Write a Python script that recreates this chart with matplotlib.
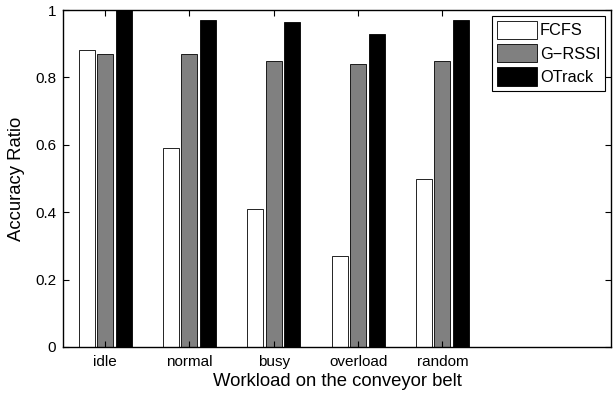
import matplotlib
matplotlib.use('Agg')
import matplotlib.pyplot as plt
import numpy as np

plt.rcParams['font.family'] = ['Liberation Sans', 'DejaVu Sans']

categories = ['idle', 'normal', 'busy', 'overload', 'random']
series = ['FCFS', 'G\u2212RSSI', 'OTrack']
fcfs = [0.88, 0.59, 0.41, 0.27, 0.50]
grssi = [0.87, 0.87, 0.85, 0.84, 0.85]
otrack = [1.00, 0.97, 0.965, 0.93, 0.97]

colors = ['white', '#808080', 'black']
x = np.arange(1, len(categories) + 1)
width = 0.19
step = 0.22

fig = plt.figure(figsize=(6.14, 3.94), dpi=100)
ax = fig.add_axes([63/614, 1 - 347/394, (611-63)/614, (347-10)/394])

for i, (vals, c, name) in enumerate(zip([fcfs, grssi, otrack], colors, series)):
    ax.bar(x + (i - 1) * step, vals, width, color=c, edgecolor='black',
           linewidth=0.6, label=name)

ax.set_xlim(0.5, 7.0)
ax.set_ylim(0, 1)
ax.set_xticks(x)
ax.set_xticklabels(categories)
ax.set_yticks([0, 0.2, 0.4, 0.6, 0.8, 1])
ax.set_yticklabels(['0', '0.2', '0.4', '0.6', '0.8', '1'])
ax.tick_params(direction='in', top=True, right=True, labelsize=11, length=4)
ax.tick_params(axis='x', pad=6)
ax.tick_params(axis='y', pad=5)
for s in ax.spines.values():
    s.set_linewidth(1.0)

ax.set_xlabel('Workload on the conveyor belt', fontsize=13.3, labelpad=3)
ax.set_ylabel('Accuracy Ratio', fontsize=13.3, labelpad=7)

leg = ax.legend(loc='upper right', fontsize=11.8, fancybox=False, framealpha=1,
                edgecolor='black', handlelength=2.4, handleheight=1.35,
                borderpad=0.3, labelspacing=0.3, handletextpad=0.2,
                borderaxespad=0.35)
leg.get_frame().set_linewidth(0.8)

fig.savefig('out.png', dpi=100)
